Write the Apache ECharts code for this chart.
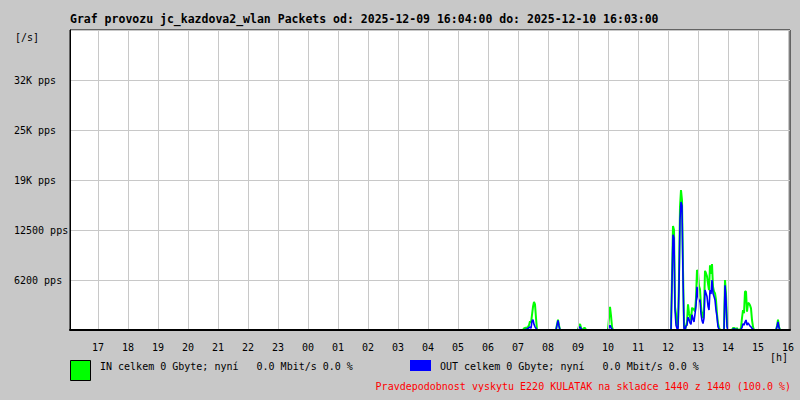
<!DOCTYPE html>
<html>
<head>
<meta charset="utf-8">
<script src="https://cdn.jsdelivr.net/npm/echarts@6/dist/echarts.min.js"></script>
<style>
html,body{margin:0;padding:0;background:#c8c8c8;}
#chart{width:800px;height:400px;}
</style>
</head>
<body>
<div id="chart"></div>
<script>
// ---- data ----
const titleText = 'Graf provozu jc_kazdova2_wlan Packets od: 2025-12-09 16:04:00 do: 2025-12-10 16:03:00';
const startTime = '16:04';
const sampleStepMin = 2;
const sampleCount = 721;
// samples that differ from zero (all other samples are 0 pps)
const activeTimes = [
  '07:12','07:14','07:16','07:18','07:20','07:22','07:24','07:26','07:28','07:30','07:32','07:34','07:36',
  '08:18','08:20','08:22',
  '09:02','09:04','09:06','09:12','09:14',
  '10:02','10:04','10:06','10:08',
  '12:08','12:10','12:12','12:14','12:16','12:18','12:20','12:22','12:24','12:26','12:28','12:30','12:32',
  '12:36','12:38','12:40','12:42','12:44','12:46','12:48','12:50','12:52','12:54','12:56','12:58',
  '13:00','13:02','13:04','13:06','13:08','13:10','13:12','13:14','13:16','13:18','13:20','13:22','13:24',
  '13:26','13:28','13:30','13:32','13:34','13:36','13:38','13:40','13:42',
  '13:54','13:56','13:58',
  '14:10','14:12','14:14','14:18',
  '14:26','14:28','14:30','14:32','14:34','14:36','14:38','14:40','14:42','14:44','14:46','14:48','14:50',
  '15:38','15:40','15:42'
];
const inPps = [
  200,250,300,250,400,600,1100,900,1900,2900,3500,3200,1500,
  700,1300,600,
  500,750,300,250,250,
  1500,2900,1800,400,
  6700,13000,12500,2900,2000,500,300,6500,15400,17500,16200,7700,400,
  500,1000,3200,2100,1700,1200,2800,2500,2700,2300,4000,7500,
  7200,5500,5100,3000,1800,1500,2500,7400,7100,6700,5800,5000,8100,
  7000,8250,5400,4800,4600,3750,2000,800,300,
  6250,4500,800,
  250,250,200,250,
  300,1500,2500,2100,4800,4800,2300,3400,3300,3100,2700,1250,400,
  500,1300,400
];
const outPps = [
  0,50,100,100,200,300,400,200,1100,1300,700,400,200,
  600,1200,500,
  300,400,200,0,0,
  300,600,300,100,
  6000,11900,11500,2500,600,200,100,5300,13800,16000,15500,6700,200,
  500,600,1600,1300,900,700,1900,1400,1000,2000,3000,5400,
  4200,3500,3800,2000,1200,800,1500,5000,4600,4200,3000,2500,5000,
  4500,6250,4600,4200,3750,2500,1650,400,100,
  5600,3800,400,
  100,150,100,100,
  100,300,800,600,1000,1250,600,900,700,500,400,200,100,
  400,1000,300
];
const yTickLabels = ['', '6200 pps', '12500 pps', '19K pps', '25K pps', '32K pps', ''];
const yStep = 6250;
const yMax = 37500;
const legendIn = 'IN celkem 0 Gbyte; nyní   0.0 Mbit/s 0.0 %';
const legendOut = 'OUT celkem 0 Gbyte; nyní   0.0 Mbit/s 0.0 %';
const noteText = 'Pravdepodobnost vyskytu E220 KULATAK na skladce 1440 z 1440 (100.0 %)';

// ---- build categories and series ----
function toMin(t){ const p = t.split(':').map(Number); return p[0]*60 + p[1]; }
const startMin = toMin(startTime);
const pad = n => String(n).padStart(2,'0');
const categories = [];
for (let i = 0; i < sampleCount; i++) {
  const m = (startMin + i*sampleStepMin) % 1440;
  categories.push(pad(Math.floor(m/60)) + ':' + pad(m%60));
}
const inData = new Array(sampleCount).fill(0);
const outData = new Array(sampleCount).fill(0);
activeTimes.forEach((t, k) => {
  const idx = ((toMin(t) - startMin + 1440) % 1440) / sampleStepMin;
  inData[idx] = inPps[k];
  outData[idx] = outPps[k];
});

const mono = 'DejaVu Sans Mono';
const isHour = (i, v) => categories[i].slice(3) === '00';

const chart = echarts.init(document.getElementById('chart'), null, {renderer: 'svg', width: 800, height: 400});
chart.setOption({
  animation: false,
  backgroundColor: '#c8c8c8',
  title: {
    text: titleText,
    left: 70, top: 13, padding: 0,
    textStyle: {fontFamily: mono, fontSize: 11.5, fontWeight: 'bold', color: '#000'}
  },
  grid: {
    left: 70, top: 30, width: 720, height: 300,
    show: true, backgroundColor: '#ffffff', borderColor: '#000', borderWidth: 1
  },
  xAxis: {
    type: 'category',
    data: categories,
    boundaryGap: false,
    z: 5,
    axisLine: {show: true, lineStyle: {color: '#000', width: 2}},
    axisTick: {show: false},
    splitLine: {show: true, interval: isHour, lineStyle: {color: '#c8c8c8', width: 1}},
    axisLabel: {
      interval: isHour,
      margin: 12,
      fontFamily: mono, fontSize: 10, color: '#000',
      formatter: v => v.slice(0, 2)
    }
  },
  yAxis: {
    type: 'value',
    min: 0, max: yMax, interval: yStep,
    axisLine: {show: true, lineStyle: {color: '#000', width: 1}},
    axisTick: {show: false},
    splitLine: {show: true, lineStyle: {color: '#c8c8c8', width: 1}},
    axisLabel: {
      align: 'left',
      margin: 56,
      padding: [6, 0, 0, 0],
      fontFamily: mono, fontSize: 10, color: '#000',
      formatter: v => yTickLabels[Math.round(v / yStep)]
    }
  },
  series: [
    {
      name: 'IN', type: 'line', data: inData, symbol: 'none',
      lineStyle: {color: '#00ff00', width: 2}, z: 2
    },
    {
      name: 'OUT', type: 'line', data: outData, symbol: 'none',
      lineStyle: {color: '#0000ff', width: 1.6}, z: 3
    }
  ],
  graphic: [
    {type: 'text', left: 15, top: 32, style: {text: '[/s]', fontFamily: mono, fontSize: 10, fill: '#000'}},
    {type: 'text', left: 770, top: 352, style: {text: '[h]', fontFamily: mono, fontSize: 10, fill: '#000'}},
    {type: 'rect', shape: {x: 70.5, y: 360.5, width: 20, height: 20}, style: {fill: '#00ff00', stroke: '#000', lineWidth: 1}},
    {type: 'text', left: 100, top: 361, style: {text: legendIn, fontFamily: mono, fontSize: 10, fill: '#000'}},
    {type: 'rect', shape: {x: 410, y: 360, width: 21, height: 11}, style: {fill: '#0000ff'}},
    {type: 'text', left: 440, top: 361, style: {text: legendOut, fontFamily: mono, fontSize: 10, fill: '#000'}},
    {type: 'text', right: 9, top: 381, style: {text: noteText, fontFamily: mono, fontSize: 10, fill: '#ff0000'}}
  ]
});
</script>
</body>
</html>
